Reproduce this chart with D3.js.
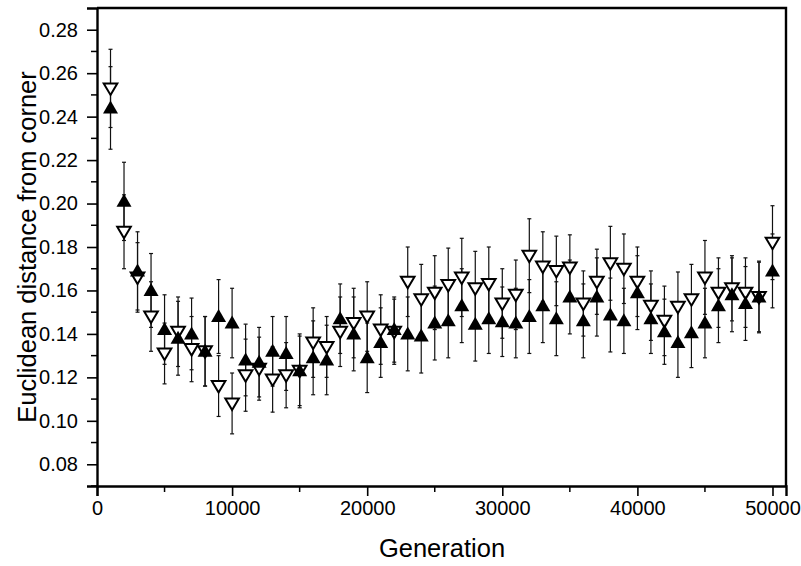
<!DOCTYPE html>
<html>
<head>
<meta charset="utf-8">
<script src="https://cdn.jsdelivr.net/npm/d3@7"></script>
<style>
body { margin: 0; background: #fff; }
text { font-family: "Liberation Sans", Arial, sans-serif; fill: #000; }
</style>
</head>
<body>
<div id="chart"></div>
<script>
// generations 1000 .. 50000
var generations = [1000,2000,3000,4000,5000,6000,7000,8000,9000,10000,
	11000,12000,13000,14000,15000,16000,17000,18000,19000,20000,
	21000,22000,23000,24000,25000,26000,27000,28000,29000,30000,
	31000,32000,33000,34000,35000,36000,37000,38000,39000,40000,
	41000,42000,43000,44000,45000,46000,47000,48000,49000,50000];

// filled up-triangles
var filledValues = [0.244,0.201,0.169,0.160,0.142,0.138,0.140,0.132,0.148,0.145,
	0.128,0.127,0.132,0.131,0.123,0.129,0.128,0.147,0.140,0.129,
	0.136,0.142,0.140,0.139,0.145,0.146,0.153,0.1445,0.147,0.1456,
	0.145,0.148,0.153,0.147,0.157,0.146,0.157,0.1487,0.146,0.159,
	0.147,0.141,0.136,0.1405,0.145,0.153,0.158,0.154,0.157,0.169];
var filledErrors = [0.019,0.018,0.018,0.017,0.016,0.017,0.0165,0.016,0.017,0.016,
	0.0165,0.016,0.016,0.017,0.017,0.017,0.016,0.016,0.017,0.016,
	0.016,0.015,0.017,0.017,0.017,0.017,0.017,0.017,0.016,0.016,
	0.016,0.017,0.017,0.017,0.017,0.017,0.018,0.017,0.015,0.017,
	0.016,0.015,0.016,0.016,0.016,0.017,0.017,0.017,0.0165,0.017];

// open down-triangles
var openValues = [0.253,0.187,0.166,0.148,0.131,0.141,0.133,0.132,0.116,0.108,
	0.121,0.124,0.119,0.121,0.123,0.136,0.134,0.141,0.145,0.148,
	0.142,0.141,0.164,0.156,0.159,0.1625,0.166,0.161,0.163,0.154,
	0.158,0.176,0.171,0.169,0.1706,0.154,0.164,0.1725,0.170,0.164,
	0.153,0.146,0.1525,0.156,0.166,0.159,0.161,0.159,0.157,0.182];
var openErrors = [0.018,0.017,0.016,0.016,0.014,0.016,0.015,0.016,0.014,0.014,
	0.0166,0.0145,0.015,0.015,0.016,0.016,0.014,0.016,0.016,0.016,
	0.016,0.015,0.016,0.016,0.017,0.017,0.018,0.017,0.017,0.016,
	0.016,0.017,0.016,0.016,0.015,0.015,0.015,0.017,0.016,0.016,
	0.016,0.016,0.016,0.016,0.017,0.016,0.015,0.016,0.016,0.017];

var xTicks = [0,10000,20000,30000,40000,50000];
var yTicks = [0.08,0.10,0.12,0.14,0.16,0.18,0.20,0.22,0.24,0.26,0.28];

var width = 801, height = 566;
var margin = {left: 97, right: 15, top: 8, bottom: 80};

var svg = d3.select("#chart").append("svg")
	.attr("width", width)
	.attr("height", height);

var x_scale = d3.scaleLinear()
	.domain([0, 51000])
	.range([margin.left, width - margin.right]);
var y_scale = d3.scaleLinear()
	.domain([0.07, 0.29])
	.range([height - margin.bottom, margin.top]);

// frame (top and right)
svg.append("path")
	.attr("d", "M" + margin.left + "," + margin.top + "H" + (width - margin.right) + "V" + (height - margin.bottom))
	.attr("fill", "none")
	.attr("stroke", "#000")
	.attr("stroke-width", 2.4);

// minor ticks
var xMinor = d3.range(5000, 51000, 10000);
var yMinor = d3.range(0.07, 0.29, 0.02);
svg.append("g").selectAll("line")
	.data(xMinor).enter().append("line")
	.attr("x1", function(d) { return x_scale(d); })
	.attr("x2", function(d) { return x_scale(d); })
	.attr("y1", y_scale(0.07))
	.attr("y2", y_scale(0.07) + 6)
	.attr("stroke", "#000").attr("stroke-width", 1.5);
svg.append("g").selectAll("line")
	.data(yMinor).enter().append("line")
	.attr("x1", margin.left - 6)
	.attr("x2", margin.left)
	.attr("y1", function(d) { return y_scale(d); })
	.attr("y2", function(d) { return y_scale(d); })
	.attr("stroke", "#000").attr("stroke-width", 1.5);

var xAxis = d3.axisBottom(x_scale)
	.tickValues(xTicks)
	.tickSize(10)
	.tickPadding(5)
	.tickFormat(d3.format("d"));
var yAxis = d3.axisLeft(y_scale)
	.tickValues(yTicks)
	.tickSize(10)
	.tickPadding(9)
	.tickFormat(d3.format(".2f"));

var gx = svg.append("g")
	.attr("class", "x_axis")
	.attr("transform", "translate(0," + (height - margin.bottom) + ")")
	.call(xAxis);
var gy = svg.append("g")
	.attr("class", "y_axis")
	.attr("transform", "translate(" + margin.left + ",0)")
	.call(yAxis);

[gx, gy].forEach(function(g) {
	g.select(".domain").attr("stroke-width", 2.4).attr("stroke", "#000");
	g.selectAll(".tick line").attr("stroke-width", 1.6).attr("stroke", "#000");
	g.selectAll(".tick text")
		.attr("font-family", "Liberation Sans, Arial, sans-serif")
		.attr("font-size", 20)
		.attr("fill", "#000");
});

// axis titles
svg.append("text")
	.attr("x", 442)
	.attr("y", 557)
	.attr("text-anchor", "middle")
	.attr("font-size", 25.5)
	.text("Generation");
svg.append("text")
	.attr("transform", "translate(36," + 247 + ") rotate(-90)")
	.attr("text-anchor", "middle")
	.attr("font-size", 25.5)
	.text("Euclidean distance from corner");

// build series
var seriesList = [
	{name: "open", values: openValues, errors: openErrors},
	{name: "filled", values: filledValues, errors: filledErrors}
];

// error bars
seriesList.forEach(function(s) {
	var rows = generations.map(function(g, i) {
		return {g: g, v: s.values[i], e: s.errors[i]};
	});
	var eb = svg.append("g").attr("class", "err_" + s.name);
	eb.selectAll("line.bar")
		.data(rows).enter().append("line")
		.attr("class", "bar")
		.attr("x1", function(d) { return x_scale(d.g); })
		.attr("x2", function(d) { return x_scale(d.g); })
		.attr("y1", function(d) { return y_scale(d.v - d.e); })
		.attr("y2", function(d) { return y_scale(d.v + d.e); })
		.attr("stroke", "#111").attr("stroke-width", 1.2);
	[-1, 1].forEach(function(sign) {
		eb.selectAll("line.cap" + (sign > 0 ? "hi" : "lo"))
			.data(rows).enter().append("line")
			.attr("x1", function(d) { return x_scale(d.g) - 2; })
			.attr("x2", function(d) { return x_scale(d.g) + 2; })
			.attr("y1", function(d) { return y_scale(d.v + sign * d.e); })
			.attr("y2", function(d) { return y_scale(d.v + sign * d.e); })
			.attr("stroke", "#111").attr("stroke-width", 1.2);
	});
});

// markers
var upTri = "M0,-7.5L7.5,5.5L-7.5,5.5Z";
var downTri = "M0,6.5L6.8,-5L-6.8,-5Z";

svg.append("g").selectAll("path")
	.data(generations).enter().append("path")
	.attr("d", downTri)
	.attr("transform", function(d, i) { return "translate(" + x_scale(d) + "," + y_scale(openValues[i]) + ")"; })
	.attr("fill", "#fff")
	.attr("stroke", "#000")
	.attr("stroke-width", 2);

svg.append("g").selectAll("path")
	.data(generations).enter().append("path")
	.attr("d", upTri)
	.attr("transform", function(d, i) { return "translate(" + x_scale(d) + "," + y_scale(filledValues[i]) + ")"; })
	.attr("fill", "#000");
</script>
</body>
</html>
